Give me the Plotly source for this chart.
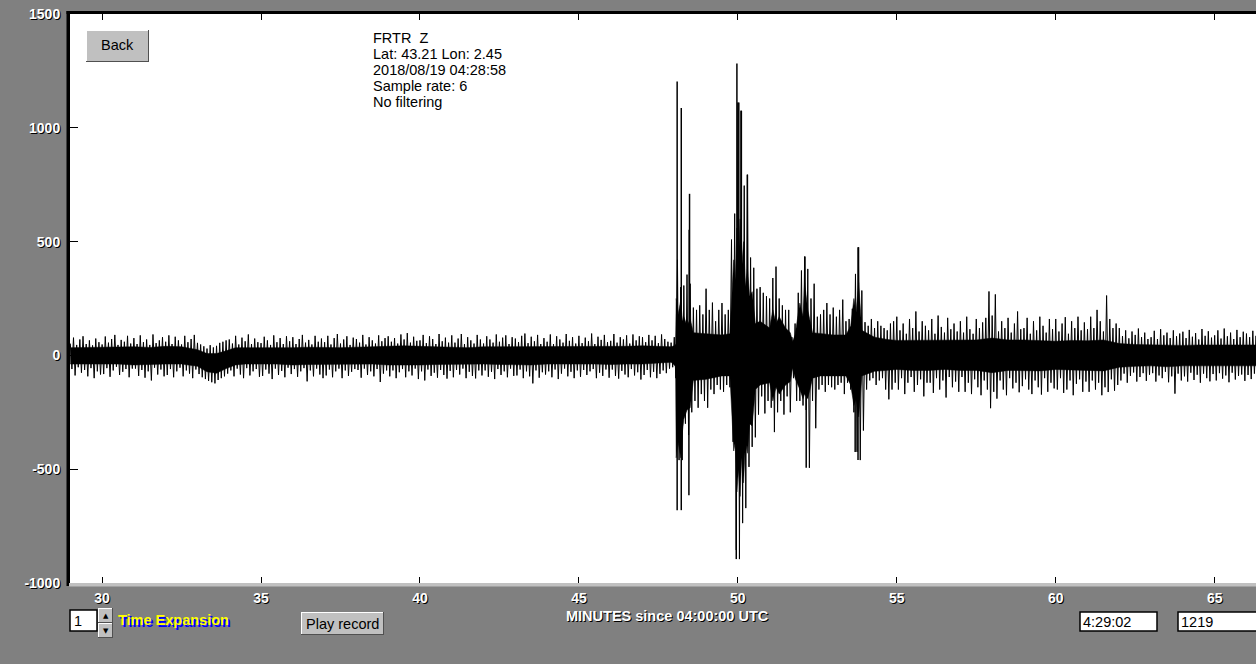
import plotly.graph_objects as go

# ---------------- data ----------------
# Solid core of the trace (minutes since 04:00 UTC, counts)
core_t = [29.0, 29.5, 30.0, 30.5, 31.0, 31.5, 32.0, 32.5, 33.0, 33.3, 33.6, 33.9, 34.2, 34.5,
          35.0, 35.5, 36.0, 36.5, 37.0, 37.5, 38.0, 38.5, 39.0, 39.5, 40.0, 40.5, 41.0, 41.5,
          42.0, 42.5, 43.0, 43.5, 44.0, 44.5, 45.0, 45.5, 46.0, 46.5, 47.0, 47.5, 47.9, 48.0,
          48.04, 48.06, 48.12, 48.2, 48.26, 48.3, 48.4, 48.5, 48.6, 49.0, 49.5, 49.75, 49.82,
          49.87, 49.92, 49.97, 50.02, 50.07, 50.12, 50.18, 50.24, 50.3, 50.37, 50.45, 50.55,
          50.7, 51.0, 51.1, 51.2, 51.3, 51.5, 51.65, 51.72, 51.8, 51.95, 52.05, 52.1, 52.2,
          52.35, 52.6, 53.0, 53.4, 53.55, 53.65, 53.72, 53.8, 53.9, 54.3, 54.7, 55.0, 55.5,
          56.0, 56.5, 57.0, 57.5, 58.0, 58.5, 59.0, 59.5, 60.0, 60.5, 61.0, 61.5, 62.0, 62.5,
          63.0, 63.5, 64.0, 64.5, 65.0, 65.5, 66.0, 66.5]
core_hi = [34, 35, 38, 36, 38, 35, 40, 38, 25, 8, 8, 20, 34, 34,
           34, 32, 34, 36, 34, 34, 36, 38, 40, 42, 40, 38, 36, 34,
           38, 38, 40, 38, 38, 38, 38, 38, 40, 40, 42, 40, 38, 42,
           50, 250, 180, 240, 150, 170, 130, 160, 100, 95, 90, 95, 300,
           420, 330, 560, 420, 600, 380, 500, 300, 380, 260, 280, 140,
           150, 120, 200, 140, 170, 120, 100, 60, 90, 230, 170, 320, 200,
           100, 95, 90, 90, 130, 250, 190, 320, 110, 80, 70, 66, 66,
           68, 66, 66, 68, 76, 68, 68, 66, 62, 66, 64, 68, 52, 48,
           46, 46, 44, 46, 46, 46, 46, 46]
core_lo = [-38, -38, -38, -38, -42, -40, -38, -38, -48, -72, -78, -58, -42, -38,
           -38, -38, -42, -40, -38, -38, -38, -38, -42, -42, -42, -40, -38, -38,
           -38, -40, -42, -42, -38, -40, -38, -38, -40, -38, -38, -34, -30, -42,
           -50, -450, -380, -450, -330, -280, -240, -230, -110, -105, -90, -90, -280,
           -420, -380, -600, -500, -620, -450, -560, -380, -430, -300, -310, -150,
           -130, -120, -200, -140, -170, -130, -115, -55, -100, -150, -190, -170, -190,
           -100, -90, -90, -90, -130, -220, -190, -270, -90, -70, -64, -62, -66,
           -66, -62, -66, -66, -76, -66, -66, -68, -62, -66, -66, -68, -52, -48,
           -46, -50, -46, -46, -46, -46, -46, -46]

# Extremes of the trace in 0.1-minute steps starting at 29.0 min
bin_start = 29.0
bin_step = 0.1
bin_hi = [
    52, 78, 46, 70, 84, 50, 66, 44, 74, 58,          # 29
    48, 83, 56, 72, 90, 46, 68, 60, 86, 52,          # 30
    76, 50, 88, 58, 70, 46, 92, 54, 66, 80,          # 31
    60, 88, 50, 82, 66, 48, 86, 58, 72, 90,          # 32
    55, 48, 40, 30, 45, 35, 42, 55, 60, 66,          # 33
    70, 52, 86, 48, 78, 62, 92, 50, 74, 58,          # 34
    54, 82, 66, 46, 88, 58, 76, 50, 84, 62,          # 35
    80, 50, 72, 90, 56, 68, 48, 86, 60, 74,          # 36
    58, 86, 48, 76, 94, 52, 70, 84, 46, 78,          # 37
    72, 56, 90, 48, 80, 66, 52, 88, 62, 76,          # 38
    84, 60, 76, 52, 92, 70, 98, 56, 82, 64,          # 39
    66, 90, 54, 84, 72, 50, 94, 62, 78, 56,          # 40
    88, 56, 74, 94, 50, 80, 66, 52, 90, 70,          # 41
    52, 84, 70, 56, 92, 60, 78, 88, 50, 80,          # 42
    74, 58, 86, 96, 54, 82, 62, 90, 50, 76,          # 43
    60, 92, 50, 84, 70, 56, 94, 64, 80, 52,          # 44
    86, 54, 78, 62, 96, 50, 82, 68, 90, 58,          # 45
    64, 94, 56, 80, 70, 88, 52, 92, 66, 84,          # 46
    80, 58, 90, 66, 86, 54, 92, 72, 60, 56,          # 47
    80, 420, 300, 307, 355, 315, 210, 200, 220, 180, # 48
    293, 200, 232, 150, 200, 230, 180, 200, 509, 623,  # 49
    1111, 1075, 746, 794, 430, 385, 293, 300, 275, 260,  # 50
    250, 340, 390, 250, 220, 200, 200, 80, 140, 275, # 51
    373, 434, 380, 250, 315, 170, 180, 200, 230, 180,  # 52
    210, 170, 200, 245, 150, 160, 205, 358, 475, 285,  # 53
    146, 130, 160, 120, 150, 130, 120, 110, 140, 150,  # 54
    170, 110, 140, 95, 160, 120, 193, 105, 150, 130,   # 55
    110, 160, 95, 175, 125, 100, 165, 115, 140, 105,   # 56
    150, 100, 170, 115, 95, 160, 120, 145, 165, 281,   # 57
    175, 268, 105, 150, 120, 165, 100, 140, 193, 115,  # 58
    120, 165, 95, 150, 110, 170, 130, 100, 160, 115,   # 59
    160, 105, 140, 168, 95, 150, 120, 170, 110, 145,   # 60
    115, 170, 120, 200, 150, 105, 263, 160, 120, 140,  # 61
    120, 85, 110, 75, 105, 90, 118, 80, 100, 72,       # 62
    80, 108, 72, 115, 88, 100, 76, 110, 84, 96,        # 63
    104, 76, 112, 82, 98, 70, 116, 86, 106, 78,        # 64
    88, 110, 74, 118, 84, 100, 72, 112, 80, 104,       # 65
    96, 80, 108, 86,                                   # 66
]
bin_lo = [
    -60, -88, -52, -76, -64, -92, -56, -100, -70, -84,
    -82, -56, -94, -66, -50, -86, -72, -60, -96, -58,
    -58, -90, -64, -98, -70, -110, -54, -84, -62, -92,
    -86, -60, -96, -70, -54, -92, -66, -80, -100, -62,
    -82, -96, -104, -112, -118, -123, -108, -100, -92, -80,
    -66, -92, -58, -84, -100, -56, -88, -70, -60, -94,
    -90, -62, -80, -104, -58, -86, -68, -96, -54, -82,
    -60, -94, -70, -56, -114, -66, -92, -58, -84, -100,
    -88, -62, -96, -70, -58, -100, -66, -90, -72, -60,
    -64, -98, -58, -86, -70, -92, -60, -117, -80, -66,
    -92, -66, -100, -74, -60, -96, -70, -88, -58, -104,
    -70, -110, -62, -90, -76, -98, -64, -86, -102, -68,
    -96, -64, -84, -58, -100, -72, -90, -101, -66, -88,
    -66, -94, -72, -104, -60, -86, -70, -96, -58, -90,
    -88, -62, -100, -70, -92, -123, -66, -98, -74, -84,
    -70, -96, -62, -104, -80, -58, -92, -72, -100, -66,
    -94, -64, -86, -70, -60, -100, -76, -90, -62, -98,
    -62, -90, -102, -68, -84, -96, -60, -88, -74, -106,
    -86, -64, -96, -72, -100, -81, -66, -78, -58, -52,
    -100, -460, -460, -300, -350, -250, -200, -230, -170, -200,
    -230, -150, -170, -130, -150, -160, -130, -140, -380, -855,
    -895, -737, -671, -490, -402, -360, -260, -180, -255, -200,
    -230, -337, -250, -200, -260, -180, -250, -100, -200, -200,
    -220, -240, -494, -200, -320, -150, -130, -160, -130, -140,
    -150, -130, -120, -170, -120, -150, -250, -424, -460, -330,
    -150, -110, -100, -130, -110, -100, -150, -193, -150, -120,
    -150, -100, -170, -120, -95, -160, -130, -105, -180, -120,
    -120, -165, -100, -150, -110, -185, -95, -140, -115, -160,
    -95, -160, -120, -170, -105, -140, -175, -110, -150, -232,
    -160, -190, -110, -150, -175, -100, -145, -120, -162, -135,
    -105, -150, -170, -110, -140, -172, -100, -160, -120, -145,
    -150, -100, -165, -150, -110, -175, -125, -105, -160, -115,
    -160, -110, -150, -120, -175, -140, -161, -105, -155, -130,
    -110, -80, -120, -90, -75, -115, -95, -78, -112, -85,
    -78, -115, -88, -100, -72, -118, -92, -168, -80, -110,
    -92, -115, -76, -108, -85, -120, -80, -100, -114, -82,
    -110, -78, -102, -88, -118, -76, -106, -90, -84, -112,
    -86, -104, -80, -110,
]

# Large isolated spikes (minutes, counts)
spike_t = [48.09, 48.09, 48.22, 48.22, 48.46, 48.48, 48.47, 49.97, 49.95, 50.03,
           50.11, 50.30, 52.11, 52.15, 53.78, 53.69, 53.78]
spike_v = [1203, -680, 1087, -680, -614, 710, 552, 1282, -895, 1111,
           1075, 794, 434, -494, 475, -424, -460]

y_ticks = [-1000, -500, 0, 500, 1000, 1500]
y_tick_text = ["-1000", "-500", "0", "500", "1000", "1500"]
x_ticks = [30, 35, 40, 45, 50, 55, 60, 65]
x_tick_text = ["30", "35", "40", "45", "50", "55", "60", "65"]

info_lines = ["FRTR  Z", "Lat: 43.21 Lon: 2.45", "2018/08/19 04:28:58",
              "Sample rate: 6", "No filtering"]
x_title = "MINUTES since 04:00:00 UTC"
time_box = "4:29:02"
count_box = "1219"
expansion = "1"

# ---------------- figure ----------------
W, H = 1256, 664
L, T, R_PX, B_PX = 70, 14, 1256, 583
PW, PH = R_PX - L, B_PX - T
FAM = "Liberation Sans, Arial, sans-serif"


def px(x):
    return (x - L) / PW


def py(y):
    return (B_PX - y) / PH


fig = go.Figure()

# core polygon
fig.add_trace(go.Scatter(
    x=core_t + core_t[::-1], y=core_hi + core_lo[::-1],
    fill="toself", fillcolor="black", mode="lines",
    line=dict(color="black", width=0.5), hoverinfo="skip"))

# trace drawn through the per-bin extremes (max, then min within each bin)
hx, hy = [], []
for i, (a, b) in enumerate(zip(bin_hi, bin_lo)):
    t = bin_start + i * bin_step
    hx += [t, t + bin_step / 2]
    hy += [a, b]
fig.add_trace(go.Scatter(x=hx, y=hy, mode="lines",
                         line=dict(color="black", width=1), hoverinfo="skip"))

# isolated big spikes
sx, sy = [], []
for t, v in zip(spike_t, spike_v):
    sx += [t, t, None]
    sy += [0, v, None]
fig.add_trace(go.Scatter(x=sx, y=sy, mode="lines",
                         line=dict(color="black", width=1.5), hoverinfo="skip"))

label_font = dict(family=FAM, size=14, color="white",
                  weight="bold", shadow="1px 1px 0px #000")

fig.update_layout(
    width=W, height=H,
    margin=dict(l=L, r=W - R_PX, t=T, b=H - B_PX),
    paper_bgcolor="#808080", plot_bgcolor="white",
    showlegend=False, hovermode=False,
    xaxis=dict(range=[28.99, 66.3], tickvals=x_ticks, ticktext=x_tick_text,
               ticks="inside", ticklen=6, tickcolor="black", tickwidth=1,
               showline=True, linecolor="rgba(0,0,0,0)", mirror="ticks",
               showgrid=False, zeroline=False, tickfont=label_font,
               ticklabelstandoff=2, fixedrange=True),
    yaxis=dict(range=[-1000, 1500], tickvals=y_ticks, ticktext=y_tick_text,
               ticks="inside", ticklen=8, tickcolor="black", tickwidth=1,
               showline=True, linecolor="rgba(0,0,0,0)",
               showgrid=False, zeroline=False, tickfont=label_font,
               ticklabelstandoff=6, fixedrange=True),
)

shapes = []
# frame: black left/top, light grey bottom
shapes.append(dict(type="rect", xref="paper", yref="paper", x0=px(66.5), x1=px(70),
                   y0=py(586), y1=py(11), fillcolor="black", line=dict(width=0)))
shapes.append(dict(type="rect", xref="paper", yref="paper", x0=px(66.5), x1=px(1256),
                   y0=py(14), y1=py(11), fillcolor="black", line=dict(width=0)))
shapes.append(dict(type="rect", xref="paper", yref="paper", x0=px(69), x1=px(1256),
                   y0=py(586.5), y1=py(583), fillcolor="#c0c0c0", line=dict(width=0)))


def button(x0, y0, x1, y1):
    out = [dict(type="rect", xref="paper", yref="paper", x0=px(x0), x1=px(x1),
                y0=py(y1), y1=py(y0), fillcolor="#c0c0c0", line=dict(width=0))]
    out.append(dict(type="line", xref="paper", yref="paper", x0=px(x0), x1=px(x1),
                    y0=py(y0 + 0.5), y1=py(y0 + 0.5), line=dict(color="white", width=1)))
    out.append(dict(type="line", xref="paper", yref="paper", x0=px(x0 + 0.5), x1=px(x0 + 0.5),
                    y0=py(y0), y1=py(y1), line=dict(color="white", width=1)))
    out.append(dict(type="line", xref="paper", yref="paper", x0=px(x0), x1=px(x1),
                    y0=py(y1 - 0.5), y1=py(y1 - 0.5), line=dict(color="#505050", width=1)))
    out.append(dict(type="line", xref="paper", yref="paper", x0=px(x1 - 0.5), x1=px(x1 - 0.5),
                    y0=py(y0), y1=py(y1), line=dict(color="#505050", width=1)))
    return out


def textbox(x0, y0, x1, y1):
    return [dict(type="rect", xref="paper", yref="paper", x0=px(x0), x1=px(x1),
                 y0=py(y1), y1=py(y0), fillcolor="white", line=dict(color="black", width=1.5))]


shapes += button(86, 30, 149, 62)          # Back
shapes += button(301, 612, 384, 635)       # Play record
shapes += button(98, 608, 113, 623)        # spinner up
shapes += button(98, 623, 113, 638)        # spinner down
shapes += textbox(70, 610, 97, 631)
shapes += textbox(1080, 612, 1157, 631)
shapes += textbox(1178, 612, 1262, 631)
fig.update_layout(shapes=shapes)

ann = []
plain = dict(family=FAM, size=14.5, color="black")
for i, line in enumerate(info_lines):
    ann.append(dict(x=px(370.5), y=py(38 + 16 * i), xref="paper", yref="paper", text=line,
                    showarrow=False, xanchor="left", yanchor="middle", font=plain))
ann.append(dict(x=px(117.5), y=py(45.5), xref="paper", yref="paper", text="Back",
                showarrow=False, xanchor="center", yanchor="middle", font=plain))
ann.append(dict(x=px(342.5), y=py(623.5), xref="paper", yref="paper", text="Play record",
                showarrow=False, xanchor="center", yanchor="middle", font=plain))
ann.append(dict(x=px(667), y=py(616), xref="paper", yref="paper", text=x_title,
                showarrow=False, xanchor="center", yanchor="middle",
                font=dict(label_font, size=14.5)))
ann.append(dict(x=px(115.5), y=py(620), xref="paper", yref="paper", text="Time Expansion",
                showarrow=False, xanchor="left", yanchor="middle",
                font=dict(family=FAM, size=14.5, color="yellow",
                          weight="bold", shadow="2px 2px 0px #0000ff")))
ann.append(dict(x=px(71.5), y=py(620.5), xref="paper", yref="paper", text=expansion,
                showarrow=False, xanchor="left", yanchor="middle", font=plain))
ann.append(dict(x=px(1081), y=py(621.5), xref="paper", yref="paper", text=time_box,
                showarrow=False, xanchor="left", yanchor="middle", font=plain))
ann.append(dict(x=px(1179), y=py(621.5), xref="paper", yref="paper", text=count_box,
                showarrow=False, xanchor="left", yanchor="middle", font=plain))
ann.append(dict(x=px(105.5), y=py(615.5), xref="paper", yref="paper", text="▲",
                showarrow=False, xanchor="center", yanchor="middle",
                font=dict(family="DejaVu Sans", size=7, color="black")))
ann.append(dict(x=px(105.5), y=py(630.5), xref="paper", yref="paper", text="▼",
                showarrow=False, xanchor="center", yanchor="middle",
                font=dict(family="DejaVu Sans", size=7, color="black")))
fig.update_layout(annotations=ann)

fig.write_html(
    "out.html",
    config={"displayModeBar": False},
    post_script="document.body.style.margin='0';document.body.style.padding='0';"
                "document.body.style.background='#808080';",
)
